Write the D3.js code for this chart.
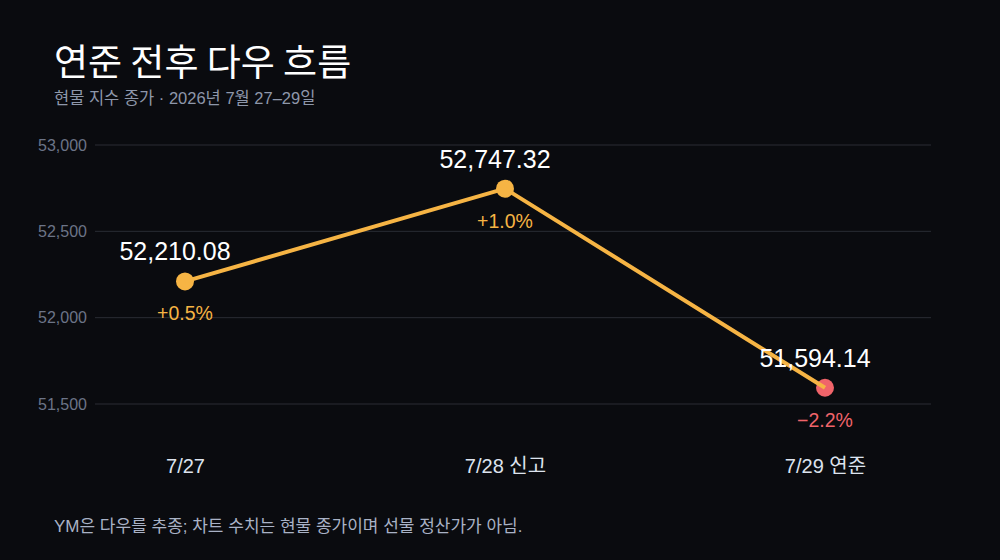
<!DOCTYPE html>
<html>
<head>
<meta charset="utf-8">
<script src="https://cdn.jsdelivr.net/npm/d3@7"></script>
<style>
  html, body { margin: 0; padding: 0; background: #0a0b0f; }
  svg { display: block; font-family: "Liberation Sans", "Noto Sans CJK KR", sans-serif; }
</style>
</head>
<body>
<svg id="chart" width="1000" height="560"></svg>
<script>
const dates = ["7/27", "7/28", "7/29"];
const xLabels = ["7/27", "7/28 신고", "7/29 연준"];
const closes = [52210.08, 52747.32, 51594.14];
const changes = ["+0.5%", "+1.0%", "\u22122.2%"];
const yTicks = [51500, 52000, 52500, 53000];

const svg = d3.select("#chart");
const orange = "#f6b444", red = "#f0646a";
const font = "Liberation Sans, Noto Sans CJK KR, sans-serif";

svg.append("rect").attr("width", 1000).attr("height", 560).attr("fill", "#0a0b0f");

svg.append("text")
  .attr("x", 54).attr("y", 76)
  .attr("fill", "#ffffff")
  .attr("font-size", 37)
  .attr("font-family", "Noto Sans CJK KR")
  .text("연준 전후 다우 흐름");

svg.append("text")
  .attr("x", 54).attr("y", 104)
  .attr("fill", "#8e97aa")
  .attr("font-size", 16.5)
  .attr("font-family", font)
  .text("현물 지수 종가 · 2026년 7월 27–29일");

// grid spans 95..931, points sit at 185 / 505 / 825
const xScale = d3.scalePoint().domain(dates).range([185, 825]);
const yScale = d3.scaleLinear().domain([51500, 53000]).range([404, 145]);

const chart = svg.append("g");

chart.selectAll(".grid")
  .data(yTicks)
  .join("line")
  .attr("class", "grid")
  .attr("x1", 95).attr("x2", 931)
  .attr("y1", d => yScale(d)).attr("y2", d => yScale(d))
  .attr("stroke", "#2a2d34")
  .attr("stroke-width", 1);

const yAxis = chart.append("g")
  .attr("transform", "translate(87,0)")
  .call(d3.axisLeft(yScale).tickValues(yTicks).tickSize(0).tickPadding(0).tickFormat(d3.format(",")));
yAxis.select(".domain").remove();
yAxis.selectAll("text")
  .attr("fill", "#6c7487")
  .attr("font-size", 16)
  .attr("font-family", font);

const xAxis = chart.append("g")
  .attr("transform", "translate(0,466)")
  .call(d3.axisBottom(xScale).tickSize(0).tickPadding(0).tickFormat((d, i) => xLabels[i]));
xAxis.select(".domain").remove();
xAxis.selectAll("text")
  .attr("fill", "#dde3ee")
  .attr("font-size", 20)
  .attr("dy", "0.35em")
  .attr("font-family", font);

const pts = dates.map((d, i) => ({ date: d, close: closes[i], change: changes[i], i }));

chart.selectAll(".dot")
  .data(pts)
  .join("circle")
  .attr("class", "dot")
  .attr("cx", d => xScale(d.date))
  .attr("cy", d => yScale(d.close))
  .attr("r", 9)
  .attr("fill", d => d.change.startsWith("+") ? orange : red);

const line = d3.line().x(d => xScale(d.date)).y(d => yScale(d.close));
chart.append("path")
  .datum(pts)
  .attr("d", line)
  .attr("fill", "none")
  .attr("stroke", orange)
  .attr("stroke-width", 4)
  .attr("stroke-linejoin", "round");

chart.selectAll(".val")
  .data(pts)
  .join("text")
  .attr("class", "val")
  .attr("x", d => xScale(d.date) - 10)
  .attr("y", d => yScale(d.close) - 21)
  .attr("text-anchor", "middle")
  .attr("fill", "#ffffff")
  .attr("font-size", 25)
  .attr("font-family", font)
  .text(d => d3.format(",.2f")(d.close));

chart.selectAll(".chg")
  .data(pts)
  .join("text")
  .attr("class", "chg")
  .attr("x", d => xScale(d.date))
  .attr("y", d => yScale(d.close) + 39)
  .attr("text-anchor", "middle")
  .attr("fill", d => d.change.startsWith("+") ? orange : red)
  .attr("font-size", 19.5)
  .attr("font-family", font)
  .text(d => d.change);

svg.append("text")
  .attr("x", 54).attr("y", 532)
  .attr("fill", "#a9b2c6")
  .attr("font-size", 17)
  .attr("font-family", font)
  .text("YM은 다우를 추종; 차트 수치는 현물 종가이며 선물 정산가가 아님.");
</script>
</body>
</html>
